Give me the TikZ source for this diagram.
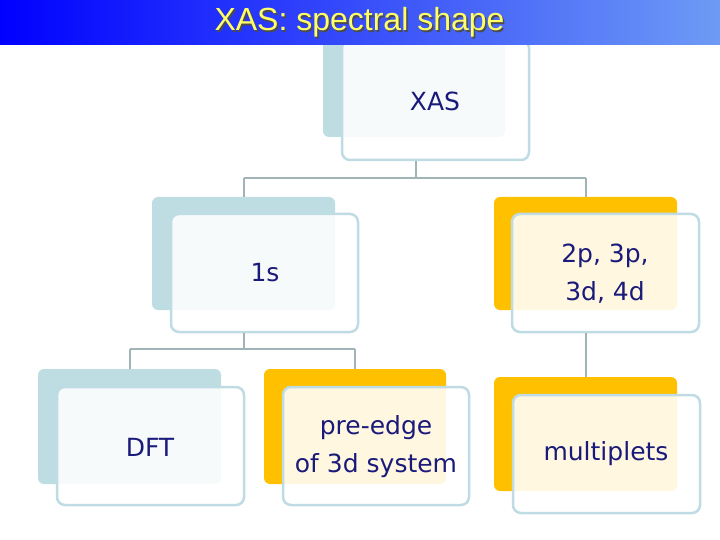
\documentclass[tikz,border=0pt]{standalone}
\usepackage{fontspec}
\setmainfont{DejaVu Sans}
\newfontfamily\titlefont{Liberation Sans}
\definecolor{navy}{HTML}{1A1A7A}
\definecolor{lb}{HTML}{BEDDE3}
\definecolor{bord}{HTML}{BFDCE4}
\definecolor{org}{HTML}{FFC000}
\definecolor{conn}{HTML}{A0B4B8}
\definecolor{ttl}{HTML}{FFFF66}
\tikzset{
 back/.style={rounded corners=6pt},
 front/.style={draw=bord,line width=2.5pt,rounded corners=8pt,fill=white,fill opacity=0.88},
 lbl/.style={text=navy,font=\fontsize{25}{38}\selectfont,align=center},
 conn/.style={draw=conn,line width=2.5pt}
}
\begin{document}
\begin{tikzpicture}[x=1pt,y=-1pt]
\useasboundingbox (0,0) rectangle (720,540);
\fill[white] (0,0) rectangle (720,540);
% boxes
\fill[lb,back] (323,40) rectangle (505,137);
\path[front] (342,40) rectangle (529,160);
\node[lbl] (xas) at (435,101) {XAS};
\fill[lb,back] (152,197) rectangle (335,310);
\path[front] (171,214) rectangle (358,332);
\node[lbl] (s1) at (265,273) {1s};
\fill[org,back] (494,197) rectangle (677,310);
\path[front] (512,214) rectangle (699,332);
\node[lbl] (p2) at (605,274) {2p, 3p,\\3d, 4d};
\fill[lb,back] (38,369) rectangle (221,484);
\path[front] (57,387) rectangle (244,505);
\node[lbl] (dft) at (150,447) {DFT};
\fill[org,back] (264,369) rectangle (446,484);
\path[front] (283,387) rectangle (469,505);
\node[lbl] (pre) at (376,447) {pre-edge\\of 3d system};
\fill[org,back] (494,377) rectangle (677,491);
\path[front] (513,395) rectangle (700,513);
\node[lbl] (mult) at (606,454) {multiplets};
% connectors
\coordinate (a0) at (416,161); \coordinate (a1) at (416,178);
\coordinate (a2) at (244,178); \coordinate (a3) at (244,197);
\coordinate (a4) at (586,178); \coordinate (a5) at (586,197);
\draw[conn] (a0) -- (a1) (a2) -- (a4) (a2) -- (a3) (a4) -- (a5);
\coordinate (b0) at (244,333); \coordinate (b1) at (244,349);
\coordinate (b2) at (130,349); \coordinate (b3) at (130,369);
\coordinate (b4) at (355,349); \coordinate (b5) at (355,369);
\draw[conn] (b0) -- (b1) (b2) -- (b4) (b2) -- (b3) (b4) -- (b5);
\coordinate (c0) at (586,333); \coordinate (c1) at (586,377);
\draw[conn] (c0) -- (c1);
% title bar
\shade[left color=blue, right color={rgb,255:red,110;green,155;blue,245}] (0,0) rectangle (720,45);
\node[font=\titlefont\fontsize{32}{34}\selectfont,text=black!70] at (361,24) {XAS: spectral shape};
\node[font=\titlefont\fontsize{32}{34}\selectfont,text=ttl] (title) at (359.5,22.5) {XAS: spectral shape};
\end{tikzpicture}
\end{document}
